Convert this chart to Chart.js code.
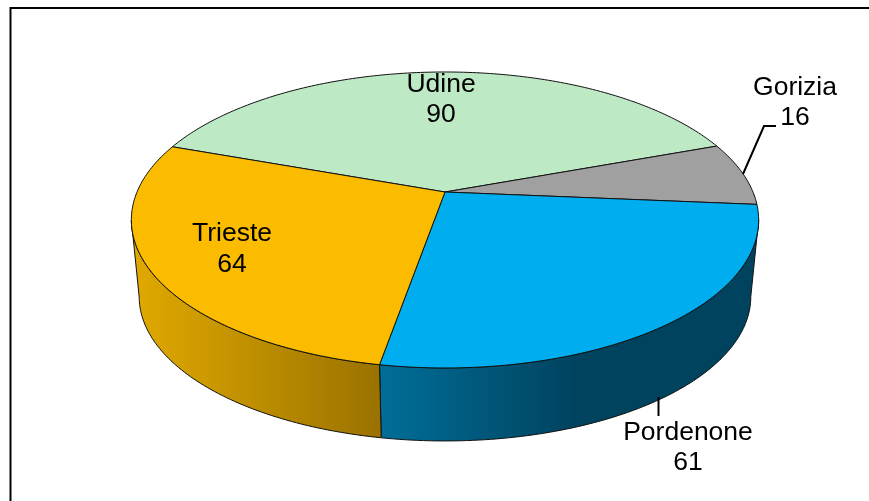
<!DOCTYPE html>
<html>
<head>
<meta charset="utf-8">
<style>
  html, body { margin: 0; padding: 0; background: #fff; overflow: hidden; }
  canvas { display: block; }
</style>
<script src="https://cdn.jsdelivr.net/npm/chart.js@4/dist/chart.umd.min.js"></script>
</head>
<body>
<canvas id="pie" width="869" height="501"></canvas>
<script>
const provinces = ['Udine', 'Gorizia', 'Pordenone', 'Trieste'];
const counts = [90, 16, 61, 64];
const topColors = ['#bde9c5', '#a0a0a0', '#00aeef', '#fbbc00'];
// wall shading, left to right
const wallStops = [null, null, ['#006e99', '#00435f'], ['#e0a900', '#9a7200']];
const wallStopX = [null, null, [380, 575], [135, 380]];

// label layout: centre x, first line y, second line y
const labelPos = [[441, 85, 115], [795, 88, 118], [688, 433, 463], [232, 234, 265]];

// perspective of the disc
const cx = 445, cy = 192, rimCy = 269.4, rimScale = 0.975;
const ax = 308, by = 142.7, persp = 0.189;
const rightEdge = 1.76, leftEdge = 4.52; // silhouette, radians clockwise from top
const TOP = -Math.PI / 2;

function project(angle, rim) {
  const th = angle - TOP;
  const X = Math.sin(th), Y = -Math.cos(th);
  const w = 1 - persp * Y;
  const s = rim ? rimScale : 1;
  return [cx + s * ax * X / w, (rim ? rimCy : cy) + s * by * Y / w];
}

function traceArc(ctx, from, to, rim) {
  const n = Math.max(2, Math.ceil(Math.abs(to - from) * 60));
  for (let i = 0; i <= n; i++) {
    const p = project(from + (to - from) * i / n, rim);
    ctx.lineTo(p[0], p[1]);
  }
}

const pie3d = {
  id: 'pie3d',
  beforeDatasetsDraw(chart) {
    const ctx = chart.ctx;
    const arcs = chart.getDatasetMeta(0).data;
    ctx.save();
    ctx.lineJoin = 'round';
    ctx.strokeStyle = '#111';
    ctx.lineWidth = 1;

    // walls first
    arcs.forEach((arc, i) => {
      const from = Math.max(arc.startAngle, TOP + rightEdge);
      const to = Math.min(arc.endAngle, TOP + leftEdge);
      if (to <= from || !wallStops[i]) return;
      const g = ctx.createLinearGradient(wallStopX[i][0], 0, wallStopX[i][1], 0);
      g.addColorStop(0, wallStops[i][0]);
      g.addColorStop(1, wallStops[i][1]);
      ctx.beginPath();
      traceArc(ctx, from, to, false);
      traceArc(ctx, to, from, true);
      ctx.closePath();
      ctx.fillStyle = g;
      ctx.fill();
      ctx.stroke();
    });

    // top face
    arcs.forEach((arc, i) => {
      ctx.beginPath();
      ctx.moveTo(cx, cy);
      traceArc(ctx, arc.startAngle, arc.endAngle, false);
      ctx.closePath();
      ctx.fillStyle = topColors[i];
      ctx.fill();
      ctx.stroke();
    });
    ctx.restore();
    return false;
  },
  afterDraw(chart) {
    const ctx = chart.ctx;
    ctx.save();

    // frame
    ctx.strokeStyle = '#000';
    ctx.lineWidth = 2;
    ctx.beginPath();
    ctx.moveTo(10.5, 501);
    ctx.lineTo(10.5, 8);
    ctx.lineTo(869, 8);
    ctx.stroke();

    // leader lines
    ctx.lineWidth = 2;
    ctx.beginPath();
    ctx.moveTo(743, 174);
    ctx.lineTo(764, 126);
    ctx.lineTo(776, 126);
    ctx.moveTo(658.5, 397);
    ctx.lineTo(658.5, 416);
    ctx.stroke();

    ctx.fillStyle = '#000';
    ctx.font = '26.5px "Liberation Sans", Arial, sans-serif';
    ctx.textAlign = 'center';
    ctx.textBaseline = 'middle';
    provinces.forEach((name, i) => {
      const p = labelPos[i];
      ctx.fillText(name, p[0], p[1]);
      ctx.fillText(String(counts[i]), p[0], p[2]);
    });
    ctx.restore();
  }
};

new Chart(document.getElementById('pie'), {
  type: 'pie',
  data: {
    labels: provinces,
    datasets: [{ data: counts, backgroundColor: topColors }]
  },
  options: {
    responsive: false,
    animation: false,
    rotation: -70.3,
    plugins: { legend: { display: false }, tooltip: { enabled: false } }
  },
  plugins: [pie3d]
});
</script>
</body>
</html>
